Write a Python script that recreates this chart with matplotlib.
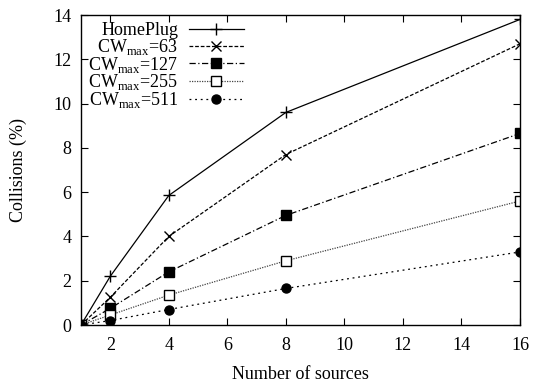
import matplotlib
matplotlib.use("Agg")
import matplotlib.pyplot as plt

sources = [1, 2, 4, 8, 16]
homeplug = [0, 2.2, 5.85, 9.6, 13.8]
cw63 = [0, 1.25, 4.0, 7.7, 12.7]
cw127 = [0, 0.75, 2.4, 4.95, 8.65]
cw255 = [0, 0.45, 1.35, 2.9, 5.6]
cw511 = [0, 0.2, 0.7, 1.65, 3.3]
labels = ["HomePlug", r"CW$_{\mathrm{max}}$=63", r"CW$_{\mathrm{max}}$=127",
          r"CW$_{\mathrm{max}}$=255", r"CW$_{\mathrm{max}}$=511"]
xticks = [2, 4, 6, 8, 10, 12, 14, 16]
yticks = [0, 2, 4, 6, 8, 10, 12, 14]

plt.rcParams['font.family'] = ['Liberation Serif', 'DejaVu Serif']
plt.rcParams['mathtext.fontset'] = 'custom'
plt.rcParams['mathtext.rm'] = 'Liberation Serif'
plt.rcParams['font.size'] = 13

fig = plt.figure(figsize=(5.34, 3.83), dpi=100)
ax = fig.add_axes([81/534, 1-325/383, 439/534, 310/383])

lw = 0.9
ax.plot(sources, homeplug, color='black', lw=lw, ls='-', marker='+', ms=9, mew=1.0, label=labels[0])
ax.plot(sources, cw63, color='black', lw=lw, ls=(0, (3, 1.5)), marker='x', ms=7.5, mew=1.0, label=labels[1])
ax.plot(sources, cw127, color='black', lw=lw, ls=(0, (5, 2, 1, 2)), marker='s', ms=7.5, mfc='black', label=labels[2])
ax.plot(sources, cw255, color='#444444', lw=lw, ls=(0, (1, 1)), marker='s', ms=6.5, mfc='white', mec='black', mew=1.0, label=labels[3])
ax.plot(sources, cw511, color='black', lw=lw, ls=(0, (1.5, 3)), marker='o', ms=6.5, mfc='black', label=labels[4])

ax.set_xlim(1, 16)
ax.set_ylim(0, 14)
ax.set_xticks(xticks)
ax.set_yticks(yticks)
ax.tick_params(direction='in', top=True, right=True, length=5, width=0.8, labelsize=13)
ax.tick_params(axis='y', pad=7)
ax.tick_params(axis='x', pad=9)
for s in ax.spines.values():
    s.set_linewidth(1.0)
ax.set_xlabel("Number of sources", fontsize=13, labelpad=8)
ax.set_ylabel("Collisions (%)", fontsize=13, labelpad=19)

leg = ax.legend(loc='upper left', bbox_to_anchor=(0.0, 1.0), frameon=False, markerfirst=False,
                handlelength=3.05, handletextpad=0.6, labelspacing=-0.13, borderpad=0.4,
                borderaxespad=0.0, fontsize=13)
for col in leg._legend_box._children[-1]._children:
    col.align = 'right'

fig.savefig("out.png", dpi=100)
